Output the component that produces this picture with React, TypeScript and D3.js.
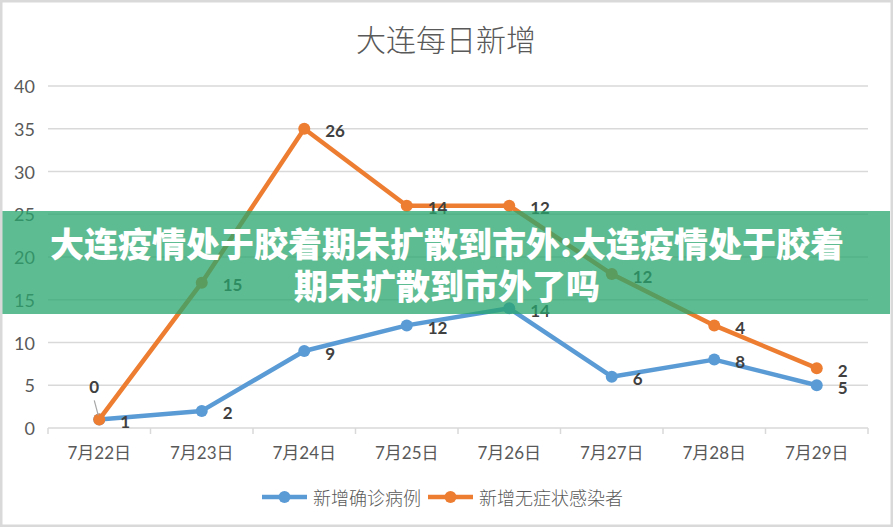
import React from 'react';
import * as d3 from 'd3';

const categories = ['7月22日', '7月23日', '7月24日', '7月25日', '7月26日', '7月27日', '7月28日', '7月29日'];
const confirmed = [1, 2, 9, 12, 14, 6, 8, 5];
const asymptomatic = [0, 15, 26, 14, 12, 12, 4, 2];
const yTicks = [0, 5, 10, 15, 20, 25, 30, 35, 40];
const seriesNames = ['新增确诊病例', '新增无症状感染者'];
const title = '大连每日新增';
const bannerLines = ['大连疫情处于胶着期未扩散到市外:大连疫情处于胶着', '期未扩散到市外了吗'];

const W = 893;
const H = 527;
const BLUE = '#5B9BD5';
const ORANGE = '#ED7D31';
const GRID = '#d9d9d9';
const TXT = '#595959';
const LBL = '#404040';
const FONT = "Lato, 'Noto Sans CJK SC', sans-serif";

export default function App() {
  const x = d3.scaleBand<string>().domain(categories).range([48, 868]);
  const y = d3.scaleLinear().domain([0, 40]).range([428, 86]);
  const cx = (c: string) => (x(c) as number) + x.bandwidth() / 2;

  const stacked = confirmed.map((v, i) => v + asymptomatic[i]);
  const line = d3
    .line<number>()
    .x((_, i) => cx(categories[i]))
    .y((d) => y(d));

  const series = [
    { name: seriesNames[0], color: BLUE, vals: confirmed, labels: confirmed },
    { name: seriesNames[1], color: ORANGE, vals: stacked, labels: asymptomatic },
  ];

  const boundaries = [...categories.map((c) => x(c) as number), 868];

  return (
    <div style={{ position: 'fixed', left: 0, top: 0, width: W, height: H, background: '#fff' }}>
      <svg width={W} height={H} style={{ display: 'block' }}>
        <rect x={0} y={0} width={W} height={H} fill="#fff" />
        <text
          x={446}
          y={38}
          textAnchor="middle"
          dominantBaseline="central"
          fontFamily="'Noto Sans CJK SC', sans-serif"
          fontWeight={300}
          fontSize={30}
          fill={TXT}
        >
          {title}
        </text>

        {yTicks.map((t) => (
          <g key={t}>
            {t > 0 && <line x1={48} x2={868} y1={y(t)} y2={y(t)} stroke={GRID} strokeWidth={1.5} />}
            <text x={35} y={y(t)} textAnchor="end" dominantBaseline="central" fontFamily={FONT} fontSize={18} fill={TXT}>
              {t}
            </text>
          </g>
        ))}
        <line x1={48} x2={868} y1={y(0)} y2={y(0)} stroke={GRID} strokeWidth={1.5} />
        {boundaries.map((b, i) => (
          <line key={i} x1={b} x2={b} y1={y(0)} y2={y(0) + 6} stroke={GRID} strokeWidth={1.5} />
        ))}
        {categories.map((c) => (
          <text key={c} x={cx(c)} y={452} textAnchor="middle" dominantBaseline="central" fontFamily={FONT} fontSize={17} fill={TXT}>
            {c}
          </text>
        ))}

        {series.map((s) => (
          <g key={s.name}>
            <path d={line(s.vals) || ''} fill="none" stroke={s.color} strokeWidth={4.5} strokeLinejoin="round" />
            {s.vals.map((v, i) => (
              <circle key={i} cx={cx(categories[i])} cy={y(v)} r={6} fill={s.color} />
            ))}
          </g>
        ))}

        {series.map((s, si) =>
          s.vals.map((v, i) => {
            const px = cx(categories[i]);
            const py = y(v);
            if (si === 1 && i === 0) {
              return (
                <g key={`${si}-${i}`}>
                  <line x1={px - 5} y1={py - 19} x2={px - 1} y2={py - 4} stroke="#a6a6a6" strokeWidth={1.2} />
                  <text x={px - 5} y={py - 33} textAnchor="middle" dominantBaseline="central" fontFamily={FONT} fontWeight={700} fontSize={17} fill={LBL}>
                    {s.labels[i]}
                  </text>
                </g>
              );
            }
            return (
              <text
                key={`${si}-${i}`}
                x={px + 21}
                y={py + 2}
                dominantBaseline="central"
                fontFamily={FONT}
                fontWeight={700}
                fontSize={17}
                fill={LBL}
              >
                {s.labels[i]}
              </text>
            );
          })
        )}

        {series.map((s, si) => {
          const lx = si === 0 ? 262 : 428;
          return (
            <g key={s.name}>
              <line x1={lx} x2={lx + 45} y1={497} y2={497} stroke={s.color} strokeWidth={4.5} />
              <circle cx={lx + 22.5} cy={497} r={6} fill={s.color} />
              <text x={lx + 51} y={497} dominantBaseline="central" fontFamily="'Noto Sans CJK SC', sans-serif" fontWeight={300} fontSize={18} fill={TXT}>
                {s.name}
              </text>
            </g>
          );
        })}

        <rect x={0} y={211} width={890} height={103} fill="rgb(40,165,110)" fillOpacity={0.75} />
        {bannerLines.map((t, i) => (
          <text
            key={i}
            x={447}
            y={242 + i * 42}
            textAnchor="middle"
            dominantBaseline="central"
            fontFamily="'Noto Sans CJK SC', sans-serif"
            fontWeight={900}
            fontSize={34}
            fill="#fff"
          >
            {t}
          </text>
        ))}

        <rect x={1.25} y={1.25} width={W - 2.5} height={H - 2.5} fill="none" stroke={GRID} strokeWidth={2.5} />
      </svg>
    </div>
  );
}
